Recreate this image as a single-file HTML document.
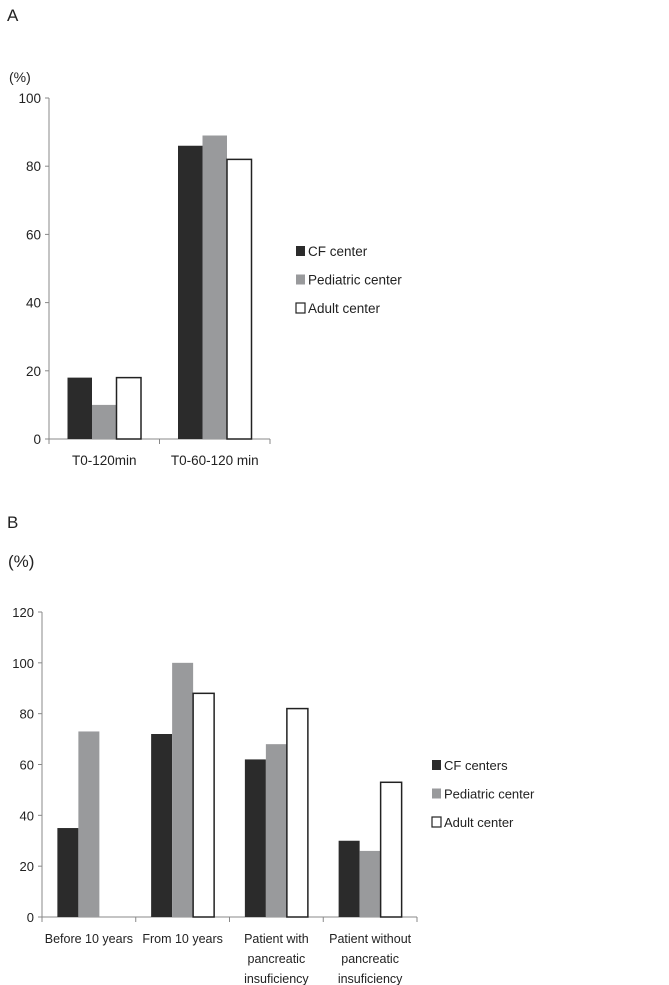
<!DOCTYPE html>
<html><head><meta charset="utf-8"><style>
body{margin:0;background:#fff;}
svg{display:block;font-family:"Liberation Sans",sans-serif;}
</style></head><body>
<svg id="c" width="669" height="985" viewBox="0 0 669 985">
<text x="7" y="21" font-size="17" fill="#222">A</text>
<text x="9" y="82" font-size="14" fill="#222">(%)</text>
<text x="7" y="528" font-size="17" fill="#222">B</text>
<text x="8" y="567" font-size="17" fill="#222">(%)</text>
</svg>
<script>
const aCategories=["T0-120min","T0-60-120 min"];
const aCF=[18,86];
const aPed=[10,89];
const aAdult=[18,82];
const aTicks=[0,20,40,60,80,100];
const aSeriesNames=["CF center","Pediatric center","Adult center"];
const bCategories=[["Before 10 years"],["From 10 years"],["Patient with","pancreatic","insuficiency"],["Patient without","pancreatic","insuficiency"]];
const bCF=[35,72,62,30];
const bPed=[73,100,68,26];
const bAdult=[0,88,82,53];
const bTicks=[0,20,40,60,80,100,120];
const bSeriesNames=["CF centers","Pediatric center","Adult center"];
const NS="http://www.w3.org/2000/svg";
const svg=document.getElementById('c');
function mk(t,a,txt){const e=document.createElementNS(NS,t);for(const k in a)e.setAttribute(k,a[k]);if(txt!==undefined)e.textContent=txt;svg.appendChild(e);return e;}
const fills=["#2b2b2b","#999a9c","#fff"];
function chart(p,cats,series,ticks,names,o){
  const ymax=ticks[ticks.length-1];
  const y=v=>o.y0-(o.y0-o.yTop)*v/ymax;
  const cw=(o.x1-o.x0)/cats.length;
  let e=mk('line',{x1:o.x0,y1:o.yTop,x2:o.x0,y2:o.y0,stroke:'#888','stroke-width':1});
  
  
  e=mk('line',{x1:o.x0-4,y1:o.y0,x2:o.x1,y2:o.y0,stroke:'#888','stroke-width':1});
  
  
  ticks.forEach(t=>{
    mk('line',{x1:o.x0-4,y1:y(t),x2:o.x0,y2:y(t),stroke:'#888'});
    e=mk('text',{x:o.x0-8,y:y(t)+5,'font-size':o.fs,'text-anchor':'end',fill:'#222'},String(t));
    
    
  });
  for(let i=0;i<=cats.length;i++)mk('line',{x1:o.x0+i*cw,y1:o.y0,x2:o.x0+i*cw,y2:o.y0+5,stroke:'#888'});
  cats.forEach((c,i)=>{
    const cx=o.x0+cw*(i+0.5);
    const lines=Array.isArray(c)?c:[c];
    lines.forEach((l,j)=>{
      e=mk('text',{x:cx,y:o.labY+j*20,'font-size':o.cfs,'text-anchor':'middle',fill:'#222'},l);
      
      
    });
    series.forEach((s,k)=>{
      if(s[i]<=0)return;
      const x=cx+(k-1.5)*o.bw;
      e=mk('rect',{x:x,y:y(s[i]),width:o.bw,height:o.y0-y(s[i]),fill:fills[k],stroke:k==2?'#222':'none','stroke-width':1.5});
      
      
    });
  });
  names.forEach((n,k)=>{
    const ly=o.legY+k*o.legGap;
    e=mk('rect',{x:o.legX,y:ly-9,width:9,height:10,fill:fills[k],stroke:k==2?'#222':'none','stroke-width':1.2});
    
    
    e=mk('text',{x:o.legX+12,y:ly+1,'font-size':o.fs,fill:'#222'},n);
    
    
  });
}
chart('a',aCategories,[aCF,aPed,aAdult],aTicks,aSeriesNames,{x0:49,x1:270,yTop:98,y0:439,bw:24.5,fs:13.5,cfs:13.5,labY:465,legX:296,legY:255,legGap:28.5});
chart('b',bCategories,[bCF,bPed,bAdult],bTicks,bSeriesNames,{x0:42,x1:417,yTop:612,y0:917,bw:21,fs:13,cfs:12.5,labY:943,legX:432,legY:769,legGap:28.5});
</script>
</body></html>
